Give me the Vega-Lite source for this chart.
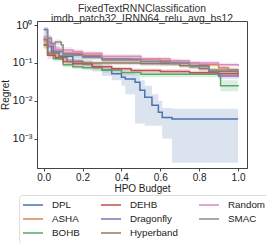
{
"$schema": "https://vega.github.io/schema/vega-lite/v6.json",
"width": 210, "height": 147,
"padding": {"left": 0, "top": 3, "right": 0, "bottom": 0},
"background": "white",
"config": {"font": "Liberation Sans", "view": {"stroke": "#444", "strokeWidth": 1}},
"title": {"text": ["FixedTextRNNClassification", "imdb_patch32_IRNN64_relu_avg_bs12"], "fontSize": 10.4, "fontWeight": "normal", "color": "#333", "offset": -5, "lineHeight": 10},
"data": {"values": [
{"alg":"DPL","x":0.0,"y":0.77,"lo":0.5,"hi":0.9},
{"alg":"DPL","x":0.02,"y":0.35,"lo":0.25,"hi":0.5},
{"alg":"DPL","x":0.04,"y":0.2,"lo":0.15,"hi":0.28},
{"alg":"DPL","x":0.08,"y":0.15,"lo":0.12,"hi":0.2},
{"alg":"DPL","x":0.15,"y":0.11,"lo":0.09,"hi":0.14},
{"alg":"DPL","x":0.2,"y":0.095,"lo":0.075,"hi":0.12},
{"alg":"DPL","x":0.25,"y":0.08,"lo":0.06,"hi":0.1},
{"alg":"DPL","x":0.3,"y":0.065,"lo":0.045,"hi":0.085},
{"alg":"DPL","x":0.35,"y":0.052,"lo":0.035,"hi":0.07},
{"alg":"DPL","x":0.4,"y":0.042,"lo":0.025,"hi":0.06},
{"alg":"DPL","x":0.42,"y":0.038,"lo":0.015,"hi":0.055},
{"alg":"DPL","x":0.47,"y":0.031,"lo":0.0025,"hi":0.05},
{"alg":"DPL","x":0.495,"y":0.019,"lo":0.0025,"hi":0.035},
{"alg":"DPL","x":0.52,"y":0.0125,"lo":0.0022,"hi":0.025},
{"alg":"DPL","x":0.557,"y":0.0076,"lo":0.0022,"hi":0.015},
{"alg":"DPL","x":0.59,"y":0.005,"lo":0.0022,"hi":0.01},
{"alg":"DPL","x":0.61,"y":0.0036,"lo":0.001,"hi":0.0065},
{"alg":"DPL","x":0.66,"y":0.0033,"lo":0.00023,"hi":0.0062},
{"alg":"DPL","x":1.0,"y":0.0033,"lo":0.00023,"hi":0.0062},
{"alg":"ASHA","x":0.0,"y":0.4,"lo":0.3,"hi":0.5},
{"alg":"ASHA","x":0.02,"y":0.3,"lo":0.24,"hi":0.36},
{"alg":"ASHA","x":0.05,"y":0.22,"lo":0.18,"hi":0.27},
{"alg":"ASHA","x":0.1,"y":0.18,"lo":0.15,"hi":0.21},
{"alg":"ASHA","x":0.2,"y":0.16,"lo":0.14,"hi":0.18},
{"alg":"ASHA","x":0.3,"y":0.13,"lo":0.115,"hi":0.145},
{"alg":"ASHA","x":0.45,"y":0.125,"lo":0.11,"hi":0.14},
{"alg":"ASHA","x":0.6,"y":0.115,"lo":0.1,"hi":0.13},
{"alg":"ASHA","x":0.7,"y":0.1,"lo":0.088,"hi":0.113},
{"alg":"ASHA","x":0.8,"y":0.09,"lo":0.079,"hi":0.102},
{"alg":"ASHA","x":0.9,"y":0.075,"lo":0.066,"hi":0.085},
{"alg":"ASHA","x":0.95,"y":0.065,"lo":0.057,"hi":0.074},
{"alg":"ASHA","x":1.0,"y":0.062,"lo":0.055,"hi":0.07},
{"alg":"BOHB","x":0.0,"y":0.3,"lo":0.24,"hi":0.37},
{"alg":"BOHB","x":0.02,"y":0.18,"lo":0.15,"hi":0.22},
{"alg":"BOHB","x":0.05,"y":0.13,"lo":0.11,"hi":0.155},
{"alg":"BOHB","x":0.1,"y":0.09,"lo":0.077,"hi":0.105},
{"alg":"BOHB","x":0.15,"y":0.08,"lo":0.069,"hi":0.093},
{"alg":"BOHB","x":0.2,"y":0.075,"lo":0.064,"hi":0.087},
{"alg":"BOHB","x":0.3,"y":0.065,"lo":0.055,"hi":0.076},
{"alg":"BOHB","x":0.4,"y":0.056,"lo":0.047,"hi":0.066},
{"alg":"BOHB","x":0.5,"y":0.05,"lo":0.042,"hi":0.059},
{"alg":"BOHB","x":0.9,"y":0.047,"lo":0.039,"hi":0.056},
{"alg":"BOHB","x":0.91,"y":0.025,"lo":0.018,"hi":0.035},
{"alg":"BOHB","x":1.0,"y":0.024,"lo":0.018,"hi":0.034},
{"alg":"DEHB","x":0.0,"y":0.3,"lo":0.24,"hi":0.37},
{"alg":"DEHB","x":0.02,"y":0.16,"lo":0.13,"hi":0.19},
{"alg":"DEHB","x":0.06,"y":0.14,"lo":0.12,"hi":0.165},
{"alg":"DEHB","x":0.1,"y":0.11,"lo":0.095,"hi":0.128},
{"alg":"DEHB","x":0.15,"y":0.095,"lo":0.082,"hi":0.11},
{"alg":"DEHB","x":0.25,"y":0.08,"lo":0.07,"hi":0.092},
{"alg":"DEHB","x":0.35,"y":0.07,"lo":0.061,"hi":0.08},
{"alg":"DEHB","x":0.45,"y":0.063,"lo":0.055,"hi":0.072},
{"alg":"DEHB","x":0.6,"y":0.06,"lo":0.052,"hi":0.069},
{"alg":"DEHB","x":0.75,"y":0.055,"lo":0.048,"hi":0.063},
{"alg":"DEHB","x":0.9,"y":0.052,"lo":0.045,"hi":0.06},
{"alg":"DEHB","x":1.0,"y":0.052,"lo":0.045,"hi":0.06},
{"alg":"Dragonfly","x":0.0,"y":0.45,"lo":0.35,"hi":0.55},
{"alg":"Dragonfly","x":0.02,"y":0.28,"lo":0.23,"hi":0.34},
{"alg":"Dragonfly","x":0.05,"y":0.2,"lo":0.17,"hi":0.24},
{"alg":"Dragonfly","x":0.1,"y":0.17,"lo":0.145,"hi":0.2},
{"alg":"Dragonfly","x":0.2,"y":0.15,"lo":0.13,"hi":0.17},
{"alg":"Dragonfly","x":0.3,"y":0.125,"lo":0.108,"hi":0.143},
{"alg":"Dragonfly","x":0.5,"y":0.11,"lo":0.095,"hi":0.126},
{"alg":"Dragonfly","x":0.6,"y":0.1,"lo":0.086,"hi":0.115},
{"alg":"Dragonfly","x":0.75,"y":0.085,"lo":0.072,"hi":0.098},
{"alg":"Dragonfly","x":0.85,"y":0.06,"lo":0.05,"hi":0.07},
{"alg":"Dragonfly","x":0.9,"y":0.045,"lo":0.038,"hi":0.053},
{"alg":"Dragonfly","x":1.0,"y":0.042,"lo":0.036,"hi":0.049},
{"alg":"Hyperband","x":0.0,"y":0.42,"lo":0.33,"hi":0.52},
{"alg":"Hyperband","x":0.02,"y":0.18,"lo":0.15,"hi":0.22},
{"alg":"Hyperband","x":0.08,"y":0.14,"lo":0.12,"hi":0.165},
{"alg":"Hyperband","x":0.12,"y":0.11,"lo":0.095,"hi":0.128},
{"alg":"Hyperband","x":0.2,"y":0.1,"lo":0.087,"hi":0.115},
{"alg":"Hyperband","x":0.5,"y":0.095,"lo":0.082,"hi":0.11},
{"alg":"Hyperband","x":0.7,"y":0.085,"lo":0.073,"hi":0.098},
{"alg":"Hyperband","x":0.8,"y":0.07,"lo":0.06,"hi":0.081},
{"alg":"Hyperband","x":0.85,"y":0.06,"lo":0.051,"hi":0.07},
{"alg":"Hyperband","x":1.0,"y":0.047,"lo":0.04,"hi":0.055},
{"alg":"Random","x":0.0,"y":0.45,"lo":0.35,"hi":0.55},
{"alg":"Random","x":0.03,"y":0.3,"lo":0.25,"hi":0.36},
{"alg":"Random","x":0.06,"y":0.22,"lo":0.19,"hi":0.26},
{"alg":"Random","x":0.15,"y":0.2,"lo":0.175,"hi":0.23},
{"alg":"Random","x":0.2,"y":0.18,"lo":0.158,"hi":0.205},
{"alg":"Random","x":0.3,"y":0.15,"lo":0.132,"hi":0.17},
{"alg":"Random","x":0.5,"y":0.13,"lo":0.115,"hi":0.147},
{"alg":"Random","x":0.65,"y":0.115,"lo":0.1,"hi":0.13},
{"alg":"Random","x":0.75,"y":0.1,"lo":0.088,"hi":0.113},
{"alg":"Random","x":0.9,"y":0.09,"lo":0.079,"hi":0.102},
{"alg":"Random","x":1.0,"y":0.082,"lo":0.072,"hi":0.093},
{"alg":"SMAC","x":0.01,"y":0.75,"lo":0.6,"hi":0.9},
{"alg":"SMAC","x":0.02,"y":0.45,"lo":0.37,"hi":0.55},
{"alg":"SMAC","x":0.04,"y":0.33,"lo":0.28,"hi":0.39},
{"alg":"SMAC","x":0.06,"y":0.36,"lo":0.3,"hi":0.42},
{"alg":"SMAC","x":0.09,"y":0.3,"lo":0.25,"hi":0.35},
{"alg":"SMAC","x":0.1,"y":0.16,"lo":0.135,"hi":0.19},
{"alg":"SMAC","x":0.2,"y":0.14,"lo":0.12,"hi":0.163},
{"alg":"SMAC","x":0.3,"y":0.12,"lo":0.104,"hi":0.138},
{"alg":"SMAC","x":0.5,"y":0.11,"lo":0.095,"hi":0.126},
{"alg":"SMAC","x":0.65,"y":0.1,"lo":0.086,"hi":0.115},
{"alg":"SMAC","x":0.75,"y":0.08,"lo":0.069,"hi":0.092},
{"alg":"SMAC","x":0.85,"y":0.065,"lo":0.056,"hi":0.075},
{"alg":"SMAC","x":1.0,"y":0.055,"lo":0.047,"hi":0.064}
]},
"encoding": {
  "x": {"field": "x", "type": "quantitative", "scale": {"domain": [-0.0345, 1.046], "nice": false, "zero": false},
        "axis": {"title": "HPO Budget", "values": [0, 0.2, 0.4, 0.6, 0.8, 1.0], "format": ".1f", "grid": false, "labelFontSize": 10, "titleFontSize": 10, "titleFontWeight": "normal", "titleColor": "#222", "labelColor": "#222", "domainColor": "#444", "tickColor": "#444", "tickSize": 3, "titlePadding": 1, "labelPadding": 1}},
  "color": {"field": "alg", "type": "nominal",
        "scale": {"domain": ["DPL","ASHA","BOHB","DEHB","Dragonfly","Hyperband","Random","SMAC"],
                  "range": ["#4c72b0","#dd8452","#55a868","#c44e52","#8172b3","#937860","#da8bc3","#8c8c8c"]},
        "legend": {"title": null, "orient": "none", "legendX": -18, "legendY": 174, "columns": 3, "symbolType": "stroke", "symbolSize": 400, "symbolStrokeWidth": 1.5, "symbolOpacity": 1, "clipHeight": 14, "labelFontSize": 9.8, "labelColor": "#222", "labelOffset": 8, "columnPadding": 20, "rowPadding": 0, "padding": 3, "strokeColor": "#ddd", "cornerRadius": 3, "fillColor": "white"}}
},
"layer": [
  {"mark": {"type": "area", "interpolate": "step-after", "opacity": 0.2},
   "encoding": {"y": {"field": "lo", "type": "quantitative"}, "y2": {"field": "hi"}}},
  {"mark": {"type": "line", "interpolate": "step-after", "strokeWidth": 1.5},
   "encoding": {"y": {"field": "y", "type": "quantitative", "scale": {"type": "log", "domain": [0.000167, 1.29], "nice": false},
      "axis": {"title": "Regret", "values": [1, 0.1, 0.01, 0.001], "labelExpr": "datum.value >= 1 ? '10⁰' : datum.value >= 0.1 ? '10⁻¹' : datum.value >= 0.01 ? '10⁻²' : '10⁻³'", "grid": false, "labelFontSize": 11, "titleFontSize": 10, "titleFontWeight": "normal", "titleColor": "#222", "labelColor": "#222", "domainColor": "#444", "tickColor": "#444", "tickSize": 3, "titlePadding": 2, "labelPadding": 2}}}}
]
}
